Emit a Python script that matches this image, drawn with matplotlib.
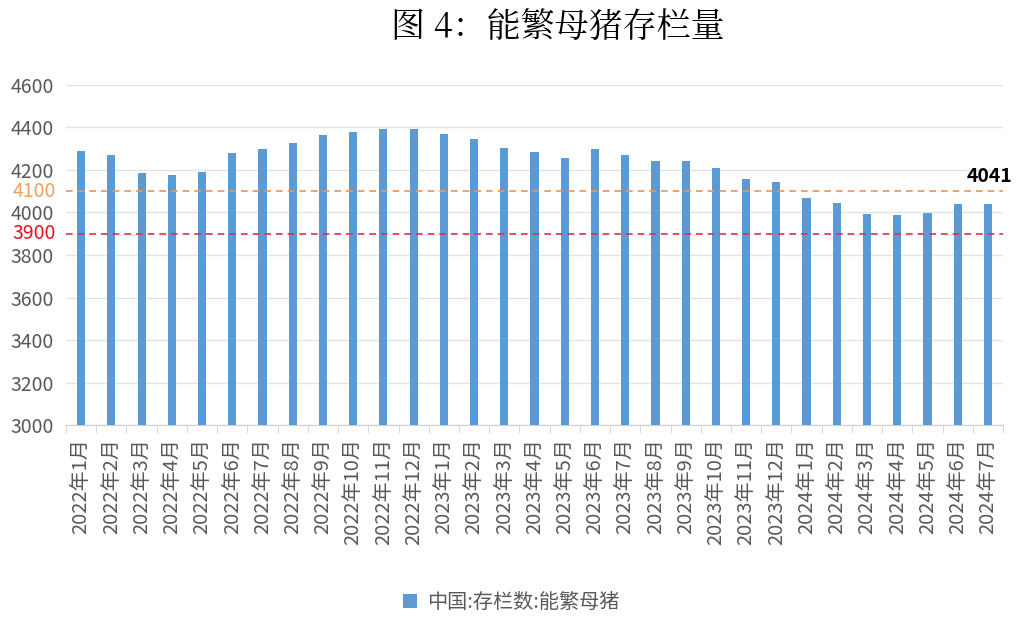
import matplotlib.pyplot as plt
import numpy as np

plt.rcParams['font.family'] = ['Noto Sans CJK SC', 'DejaVu Sans']

# monthly labels and sow inventory (10k head)
months = ["2022年1月", "2022年2月", "2022年3月", "2022年4月", "2022年5月", "2022年6月",
          "2022年7月", "2022年8月", "2022年9月", "2022年10月", "2022年11月", "2022年12月",
          "2023年1月", "2023年2月", "2023年3月", "2023年4月", "2023年5月", "2023年6月",
          "2023年7月", "2023年8月", "2023年9月", "2023年10月", "2023年11月", "2023年12月",
          "2024年1月", "2024年2月", "2024年3月", "2024年4月", "2024年5月", "2024年6月",
          "2024年7月"]
sows = [4290, 4268, 4185, 4177, 4192, 4277, 4298, 4324, 4362, 4379, 4394, 4390,
        4367, 4343, 4305, 4284, 4258, 4296, 4270, 4241, 4240, 4210, 4158, 4142,
        4067, 4042, 3992, 3986, 3996, 4038, 4041]
yticks = [3000, 3200, 3400, 3600, 3800, 4000, 4200, 4400, 4600]
line_high = 4100
line_low = 3900

fig = plt.figure(figsize=(10.24, 6.28), dpi=100)
ax = fig.add_axes([0.0645, 0.323, 0.915, 0.542])

x = np.arange(len(months))
ax.bar(x, sows, width=0.27, color="#5b9bd5", label="中国:存栏数:能繁母猪", zorder=3)

ax.set_ylim(3000, 4600)
ax.set_xlim(-0.5, len(months) - 0.5)
ax.set_yticks(yticks)
ax.set_yticklabels([str(v) for v in yticks], color="#595959", fontsize=14)
ax.tick_params(axis="y", length=0, pad=9)
ax.grid(axis="y", color="#e3e3e3", linewidth=1, zorder=0)

ax.set_xticks(x)
ax.set_xticklabels(months, rotation=90, color="#595959", fontsize=14.5)
ax.tick_params(axis="x", which="major", length=0, pad=9)
ax.set_xticks(np.arange(-0.5, len(months)), minor=True)
ax.tick_params(axis="x", which="minor", length=6, color="#d0d0d0")

for s in ["top", "right", "left"]:
    ax.spines[s].set_visible(False)
ax.spines["bottom"].set_color("#d0d0d0")

# reference lines
ax.axhline(line_high, color="#e8955a", linestyle=(0, (4, 3)), linewidth=1.2, zorder=4)
ax.axhline(line_low, color="#e0304a", linestyle=(0, (4, 3)), linewidth=1.2, zorder=4)
ax.text(-0.011, line_high, str(line_high), transform=ax.get_yaxis_transform(),
        ha="right", va="center", color="#f0a060", fontsize=14)
ax.text(-0.011, line_low, str(line_low), transform=ax.get_yaxis_transform(),
        ha="right", va="center", color="#e81020", fontsize=14)

ax.annotate(str(sows[-1]), (x[-1], sows[-1]), xytext=(x[-1] + 0.05, 4170),
            ha="center", va="center", fontsize=14, fontweight="bold", color="black")

fig.text(0.545, 0.955, "图 4：能繁母猪存栏量", ha="center", va="center", fontsize=24.5,
         family=["Noto Serif CJK SC", "Noto Sans CJK SC", "DejaVu Sans"])

ax.legend(loc="center", bbox_to_anchor=(0.475, -0.52), frameon=False, fontsize=14.5,
          handlelength=0.7, handleheight=0.7, handletextpad=0.5, labelcolor="#595959")

fig.savefig("out.png", dpi=100)
